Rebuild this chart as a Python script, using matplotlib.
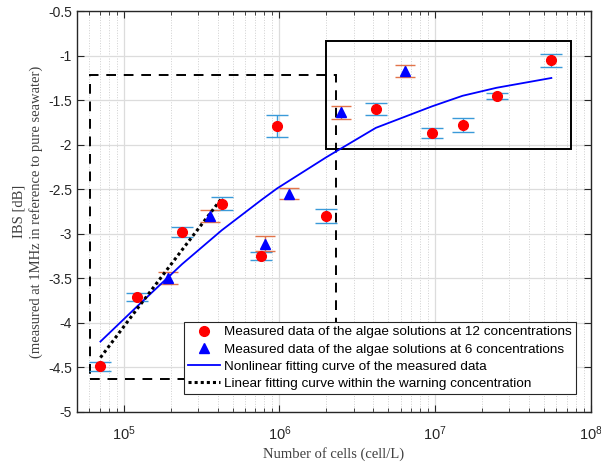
import matplotlib
matplotlib.use('Agg')
import matplotlib.pyplot as plt
import matplotlib.ticker as mticker
from matplotlib.patches import Rectangle
import numpy as np

plt.rcParams['font.family'] = ['Liberation Sans', 'DejaVu Sans']
plt.rcParams['mathtext.default'] = 'regular'
plt.rcParams['axes.unicode_minus'] = False

# measured data, 12 concentrations (red circles)
cells12 = [7.08e4, 1.21e5, 2.37e5, 4.26e5, 7.65e5, 9.66e5,
           2.0e6, 4.16e6, 9.5e6, 1.5e7, 2.48e7, 5.58e7]
ibs12 = [-4.49, -3.71, -2.98, -2.66, -3.25, -1.79,
         -2.80, -1.60, -1.87, -1.78, -1.45, -1.05]
err12 = [0.05, 0.045, 0.06, 0.07, 0.045, 0.125,
         0.08, 0.07, 0.056, 0.077, 0.034, 0.073]

# measured data, 6 concentrations (blue triangles)
cells6 = [1.93e5, 3.57e5, 8.05e5, 1.16e6, 2.5e6, 6.44e6]
ibs6 = [-3.50, -2.80, -3.11, -2.55, -1.635, -1.175]
err6 = [0.067, 0.07, 0.08, 0.06, 0.073, 0.066]

# nonlinear fit, evaluated at the 12 concentrations
fit_nl = [-4.21, -3.82, -3.34, -2.96, -2.62, -2.49,
          -2.14, -1.81, -1.57, -1.45, -1.36, -1.25]

# linear fit within the warning concentration
cells_lin = [7.08e4, 1.21e5, 2.37e5, 4.26e5]
fit_lin = [-4.39, -3.85, -3.18, -2.60]

# boxes: (x0, x1, y0, y1)
warn_box = [6.05e4, 2.31e6, -4.63, -1.22]
high_box = [2.0e6, 7.46e7, -2.05, -0.84]

fig = plt.figure(figsize=(6.01, 4.67), dpi=100)
ax = fig.add_axes([0.128, 0.118, 0.855, 0.858])

ax.errorbar(cells12, ibs12, yerr=err12, fmt='none', ecolor='#3a9ad9',
            elinewidth=1.0, capsize=8, capthick=1.0, zorder=3)
ax.errorbar(cells6, ibs6, yerr=err6, fmt='none', ecolor='#e2744a',
            elinewidth=1.0, capsize=7, capthick=1.0, zorder=3)

ax.plot(cells12, ibs12, 'o', color='#ff0000', ms=7, mec='#ff0000', zorder=5,
        label='Measured data of the algae solutions at 12 concentrations')
ax.plot(cells6, ibs6, '^', color='#0000ff', ms=7.5, mec='#0000ff', zorder=5,
        label='Measured data of the algae solutions at 6 concentrations')
ax.plot(cells12, fit_nl, '-', color='#0000ff', lw=1.3, zorder=4,
        label='Nonlinear fitting curve of the measured data')
ax.plot(cells_lin, fit_lin, color='black', lw=2.2, ls=(0, (1, 1)), zorder=4,
        label='Linear fitting curve within the warning concentration')

ax.add_patch(Rectangle((warn_box[0], warn_box[2]), warn_box[1] - warn_box[0],
                       warn_box[3] - warn_box[2], fill=False, ec='black',
                       lw=1.4, ls=(0, (5, 4)), zorder=2))
ax.add_patch(Rectangle((high_box[0], high_box[2]), high_box[1] - high_box[0],
                       high_box[3] - high_box[2], fill=False, ec='black',
                       lw=1.4, zorder=2))

ax.set_xscale('log')
ax.set_xlim(5e4, 1e8)
ax.set_ylim(-5, -0.5)
ax.set_yticks(np.arange(-5, -0.49, 0.5))
ax.yaxis.set_major_formatter(mticker.FuncFormatter(lambda v, p: '%g' % v))
ax.xaxis.set_major_locator(mticker.LogLocator(base=10, numticks=10))
ax.xaxis.set_minor_locator(mticker.LogLocator(base=10, subs=np.arange(2, 10), numticks=20))

ax.grid(True, which='major', color='#dcdcdc', lw=0.9)
ax.grid(True, which='minor', axis='x', color='#d0d0d0', lw=0.7, ls=':')
ax.set_axisbelow(True)

ax.tick_params(which='both', direction='in', top=True, right=True,
               labelsize=10, colors='#262626')
ax.tick_params(axis='x', which='major', labelsize=10.5, pad=9)
ax.tick_params(which='major', length=5, width=0.8)
ax.tick_params(which='minor', length=3, width=0.6)
for s in ax.spines.values():
    s.set_linewidth(1.0)
    s.set_color('#262626')

ax.set_xlabel('Number of cells (cell/L)', family='Liberation Serif',
              fontsize=10.5, color='#404040', labelpad=3)
ax.set_ylabel('IBS [dB]\n(measured at 1MHz in reference to pure seawater)',
              family='Liberation Serif', fontsize=10.5, color='#404040',
              labelpad=4, linespacing=1.3)

leg = ax.legend(loc='lower right', bbox_to_anchor=(0.971, 0.045),
                borderaxespad=0, fontsize=9.7, fancybox=False, framealpha=1,
                edgecolor='#262626', labelspacing=0.35, handlelength=2.4,
                handletextpad=0.3, borderpad=0.3)
leg.get_frame().set_linewidth(0.8)

fig.savefig('out.png', dpi=100)
